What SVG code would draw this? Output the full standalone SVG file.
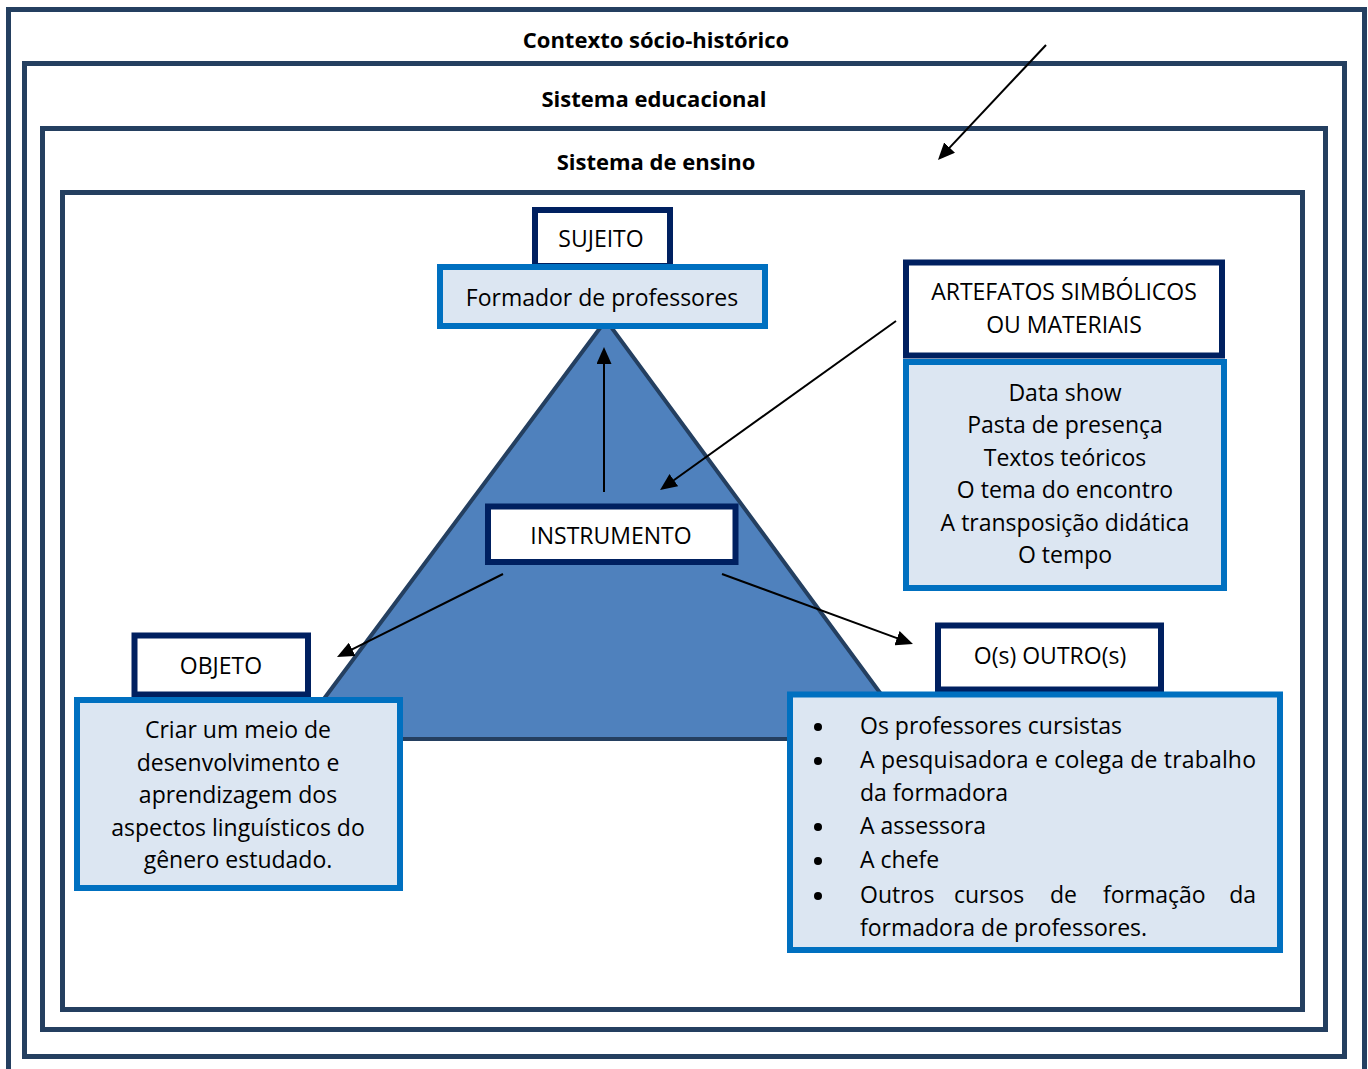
<svg xmlns="http://www.w3.org/2000/svg" width="1368" height="1069" viewBox="0 0 1368 1069">
<style>
.frame{fill:none;stroke:#243F60;stroke-width:5}
.title{font-family:"Open Sans","Liberation Sans",sans-serif;font-weight:bold;font-size:22px;fill:#000;text-anchor:middle}
.t{font-family:"Open Sans","Liberation Sans",sans-serif;font-size:23px;fill:#000}
.c{text-anchor:middle}
.navy{fill:#fff;stroke:#002060;stroke-width:6}
.blue{fill:#DCE6F2;stroke:#0070C0;stroke-width:6}
.arr{stroke:#000;stroke-width:2;fill:none;marker-end:url(#ah)}
</style>
<defs>
<marker id="ah" markerUnits="userSpaceOnUse" markerWidth="17" markerHeight="15" refX="13" refY="7.5" orient="auto">
<path d="M0,0 L17,7.5 L0,15 z" fill="#000"/>
</marker>
</defs>
<rect width="1368" height="1069" fill="#fff"/>
<g id="frames">
<rect class="frame" x="8.5" y="9.5" width="1356" height="1090"/>
<rect class="frame" x="24.5" y="63.5" width="1320" height="993"/>
<rect class="frame" x="42.5" y="128.5" width="1283" height="901"/>
<rect class="frame" x="62.5" y="192.5" width="1240" height="817"/>
<text class="title" x="656" y="48">Contexto sócio-histórico</text>
<text class="title" x="654" y="107">Sistema educacional</text>
<text class="title" x="656" y="170">Sistema de ensino</text>
</g>
<g id="triangle">
<polygon points="606,320 294,739 914,739" fill="#4F81BD" stroke="#243F60" stroke-width="4" stroke-linejoin="miter"/>
</g>
<g id="sujeito">
<rect class="navy" x="535" y="210" width="135" height="56"/>
<text class="t c" x="601" y="247">SUJEITO</text>
</g>
<g id="formador">
<rect class="blue" x="440" y="267" width="325" height="59"/>
<text class="t c" x="602" y="306">Formador de professores</text>
</g>
<g id="artefatos">
<rect class="navy" x="906" y="262.5" width="316" height="93"/>
<text class="t c" x="1064" y="300">ARTEFATOS SIMBÓLICOS</text>
<text class="t c" x="1064" y="333">OU MATERIAIS</text>
</g>
<g id="artefatos-lista">
<rect class="blue" x="906" y="362" width="318" height="226"/>
<text class="t c" x="1065" y="401">Data show</text>
<text class="t c" x="1065" y="433">Pasta de presença</text>
<text class="t c" x="1065" y="466">Textos teóricos</text>
<text class="t c" x="1065" y="498">O tema do encontro</text>
<text class="t c" x="1065" y="531">A transposição didática</text>
<text class="t c" x="1065" y="563">O tempo</text>
</g>
<g id="instrumento">
<rect class="navy" x="488" y="506.5" width="247.5" height="55.5"/>
<text class="t c" x="611" y="544">INSTRUMENTO</text>
</g>
<g id="objeto">
<rect class="navy" x="134.5" y="635.5" width="173.5" height="59"/>
<text class="t c" x="221" y="674">OBJETO</text>
</g>
<g id="objeto-texto">
<rect class="blue" x="77" y="700" width="323" height="188"/>
<text class="t c" x="238" y="738">Criar um meio de</text>
<text class="t c" x="238" y="771">desenvolvimento e</text>
<text class="t c" x="238" y="803">aprendizagem dos</text>
<text class="t c" x="238" y="836">aspectos linguísticos do</text>
<text class="t c" x="238" y="868">gênero estudado.</text>
</g>
<g id="outros">
<rect class="navy" x="938" y="625.5" width="223" height="64"/>
<text class="t c" x="1050" y="664">O(s) OUTRO(s)</text>
</g>
<g id="outros-lista">
<rect class="blue" x="790" y="694.5" width="490" height="255.5"/>
<g fill="#000">
<circle cx="818" cy="727" r="4"/>
<circle cx="818" cy="761" r="4"/>
<circle cx="818" cy="827" r="4"/>
<circle cx="818" cy="861" r="4"/>
<circle cx="818" cy="896" r="4"/>
</g>
<text class="t" x="860" y="734">Os professores cursistas</text>
<text class="t" x="860" y="768" textLength="396" lengthAdjust="spacing">A pesquisadora e colega de trabalho</text>
<text class="t" x="860" y="801">da formadora</text>
<text class="t" x="860" y="834">A assessora</text>
<text class="t" x="860" y="868">A chefe</text>
<text class="t" x="860" y="903">Outros</text>
<text class="t" x="954" y="903">cursos</text>
<text class="t" x="1050" y="903">de</text>
<text class="t" x="1103" y="903">formação</text>
<text class="t" x="1256" y="903" text-anchor="end">da</text>
<text class="t" x="860" y="936">formadora de professores.</text>
</g>
<g id="connectors">
<line class="arr" x1="1046" y1="45" x2="940.7" y2="157.1"/>
<line class="arr" x1="604" y1="492" x2="604" y2="351"/>
<line class="arr" x1="896" y1="321" x2="663.3" y2="487.7"/>
<line class="arr" x1="503" y1="574" x2="340.6" y2="655.2"/>
<line class="arr" x1="722" y1="574" x2="909.2" y2="642.6"/>
</g>
</svg>
